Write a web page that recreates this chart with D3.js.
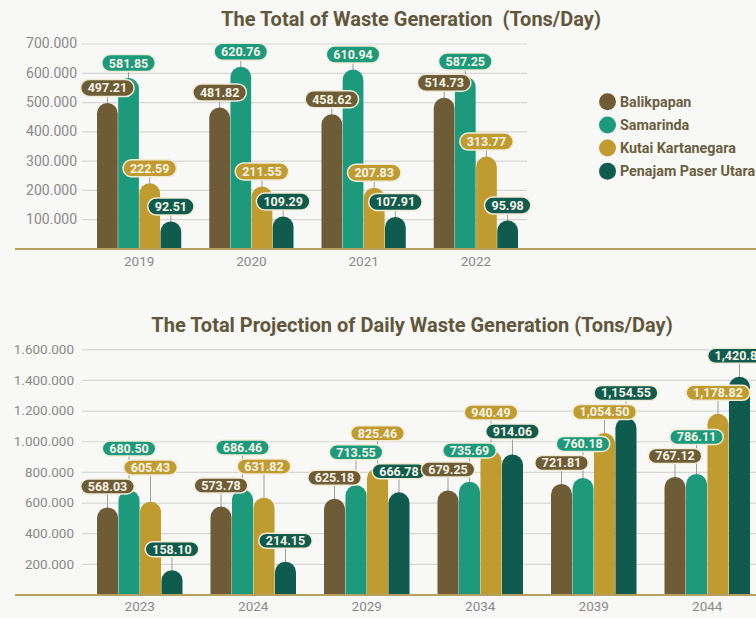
<!DOCTYPE html>
<html>
<head>
<meta charset="utf-8">
<script src="https://cdn.jsdelivr.net/npm/d3@7"></script>
<style>
  html, body { margin: 0; padding: 0; background: #f8f8f7; }
  svg { display: block; font-family: Roboto, "Noto Sans", sans-serif; }
</style>
</head>
<body>
<svg id="chart" width="756" height="618"></svg>
<script>
// ---------- DATA ----------
const seriesNames = ["Balikpapan", "Samarinda", "Kutai Kartanegara", "Penajam Paser Utara"];
const seriesColors = ["#6e5c36", "#1c9a7b", "#bf9b30", "#0f5b4d"];

const years1 = ["2019", "2020", "2021", "2022"];
const balikpapan1 = [497.21, 481.82, 458.62, 514.73];
const samarinda1 = [581.85, 620.76, 610.94, 587.25];
const kutai1 = [222.59, 211.55, 207.83, 313.77];
const penajam1 = [92.51, 109.29, 107.91, 95.98];
const ticks1 = [100, 200, 300, 400, 500, 600, 700];

const years2 = ["2023", "2024", "2029", "2034", "2039", "2044"];
const balikpapan2 = [568.03, 573.78, 625.18, 679.25, 721.81, 767.12];
const samarinda2 = [680.50, 686.46, 713.55, 735.69, 760.18, 786.11];
const kutai2 = [605.43, 631.82, 825.46, 940.49, 1054.50, 1178.82];
const penajam2 = [158.10, 214.15, 666.78, 914.06, 1154.55, 1420.85];
const ticks2 = [200, 400, 600, 800, 1000, 1200, 1400, 1600];

const title1 = "The Total of Waste Generation  (Tons/Day)";
const title2 = "The Total Projection of Daily Waste Generation (Tons/Day)";

// ---------- SETUP ----------
const svg = d3.select("#chart");
const W = 756, H = 618;
svg.append("rect").attr("width", W).attr("height", H).attr("fill", "#f8f8f7");

const idLocale = d3.formatLocale({decimal: ",", thousands: ".", grouping: [3], currency: ["", ""]});
const tickFmt = d => idLocale.format(",.0f")(d * 1000);
const valFmt = d3.format(",.2f");

const textColor = "#62573a";
const gridColor = "#d6d6d4";
const axisTextColor = "#8a8a88";

function drawChart(cfg) {
  const g = svg.append("g");
  const x0 = d3.scaleBand().domain(cfg.years).range(cfg.xRange).paddingInner(0).paddingOuter(0);
  const bw = x0.bandwidth();
  const x1 = d3.scaleBand().domain(seriesNames).range([cfg.groupPad, bw - cfg.groupPad]).paddingInner(0.02);
  const y = d3.scaleLinear().domain([0, cfg.yMax]).range(cfg.yRange);

  // title
  g.append("text")
    .attr("x", cfg.titleX).attr("y", cfg.titleY)
    .attr("text-anchor", "middle")
    .attr("font-size", cfg.titleSize).attr("font-weight", 700)
    .attr("fill", textColor)
    .attr("xml:space", "preserve")
    .style("white-space", "pre")
    .text(cfg.title);

  // grid
  const axisG = g.append("g").attr("transform", `translate(${cfg.gridX0},0)`);
  const yAxis = d3.axisLeft(y).tickValues(cfg.ticks).tickFormat(tickFmt)
      .tickSize(-(cfg.gridX1 - cfg.gridX0)).tickPadding(cfg.tickPad);
  axisG.call(yAxis);
  axisG.select(".domain").remove();
  axisG.selectAll(".tick line").attr("stroke", gridColor).attr("stroke-width", 1.2);
  axisG.selectAll(".tick text")
    .attr("fill", axisTextColor).attr("font-size", cfg.tickSize).attr("font-family", "Roboto, sans-serif");

  // year labels
  const xAxisG = g.append("g").attr("transform", `translate(0,${cfg.yRange[0]})`);
  xAxisG.call(d3.axisBottom(x0).tickSize(0).tickPadding(cfg.yearPad));
  xAxisG.select(".domain").remove();
  xAxisG.selectAll(".tick text")
    .attr("fill", axisTextColor).attr("font-size", 13.5).attr("font-family", "Roboto, sans-serif");

  // data records
  const records = cfg.years.map((yr, i) => ({
    year: yr,
    items: seriesNames.map((s, k) => ({series: s, color: seriesColors[k], value: cfg.values[k][i]}))
  }));

  const layer = g.append("g");
  const lineLayer = layer.append("g");
  const barLayer = layer.append("g");
  const baseLayer = layer.append("g");
  const pillLayer = layer.append("g");

  // bars with rounded tops
  const bw1 = x1.bandwidth();
  const r = bw1 / 2;
  records.forEach(rec => {
    rec.items.forEach(it => {
      const bx = x0(rec.year) + x1(it.series);
      const top = y(it.value);
      const bottom = y(0);
      it.cx = bx + bw1 / 2;
      it.top = top;
      const p = `M${bx},${bottom} V${top + r} A${r},${r} 0 0 1 ${bx + bw1},${top + r} V${bottom} Z`;
      barLayer.append("path").attr("d", p).attr("fill", it.color);
    });
  });

  // baseline
  baseLayer.append("line")
    .attr("x1", 15).attr("x2", W)
    .attr("y1", y(0) + 0.5).attr("y2", y(0) + 0.5)
    .attr("stroke", "#b4a063").attr("stroke-width", 2.2);

  // pills: measure, layout (ascending values, push up on collision)
  const h = cfg.pillH, gap = cfg.pillGap;
  records.forEach(rec => {
    rec.items.forEach(it => {
      const t = pillLayer.append("text")
        .attr("font-size", cfg.labelSize).attr("font-weight", 700)
        .attr("text-anchor", "middle")
        .attr("fill", "#f6f3e6")
        .attr("dy", "0.36em")
        .text(valFmt(it.value));
      it.textNode = t;
      it.w = t.node().getComputedTextLength() + 2 * cfg.pillPadX;
    });
    const sorted = rec.items.slice().sort((a, b) => a.value - b.value);
    const placed = [];
    sorted.forEach(it => {
      let py = it.top - cfg.labelOffset;
      let moved = true;
      while (moved) {
        moved = false;
        for (const p of placed) {
          const xOverlap = (p.w + it.w) / 2 - Math.abs(p.cx - it.cx);
          if (xOverlap > 6 && Math.abs(p.py - py) < h + gap) {
            py = p.py - h - gap;
            moved = true;
          }
        }
      }
      it.py = py;
      placed.push(it);
    });
    rec.items.forEach(it => {
      lineLayer.append("line")
        .attr("x1", it.cx).attr("x2", it.cx)
        .attr("y1", it.py).attr("y2", it.top + 1)
        .attr("stroke", "#9c9c98").attr("stroke-width", 1);
      pillLayer.insert("rect", function() { return it.textNode.node(); })
        .attr("x", it.cx - it.w / 2).attr("y", it.py - h / 2)
        .attr("width", it.w).attr("height", h)
        .attr("rx", h / 2).attr("ry", h / 2)
        .attr("fill", it.color)
        .attr("stroke", "#f1ecd6").attr("stroke-width", 1.5);
      it.textNode.attr("x", it.cx).attr("y", it.py);
    });
  });
}

drawChart({
  years: years1,
  values: [balikpapan1, samarinda1, kutai1, penajam1],
  ticks: ticks1,
  yMax: 700,
  yRange: [248.5, 43.5],
  xRange: [83, 532],
  groupPad: 14,
  gridX0: 82, gridX1: 527,
  tickPad: 5, tickSize: 14,
  yearPad: 8,
  title: title1, titleX: 411, titleY: 26, titleSize: 20,
  labelSize: 12.5, pillH: 17, pillGap: 2, pillPadX: 7, labelOffset: 15
});

drawChart({
  years: years2,
  values: [balikpapan2, samarinda2, kutai2, penajam2],
  ticks: ticks2,
  yMax: 1600,
  yRange: [594.5, 349.3],
  xRange: [83, 764],
  groupPad: 14,
  gridX0: 82, gridX1: W,
  tickPad: 8, tickSize: 13.5,
  yearPad: 7,
  title: title2, titleX: 412, titleY: 332, titleSize: 20,
  labelSize: 12.5, pillH: 15, pillGap: 4, pillPadX: 7, labelOffset: 21
});

// legend
const legend = svg.append("g");
seriesNames.forEach((s, k) => {
  const ly = 101.7 + k * 23.2;
  legend.append("circle").attr("cx", 607.5).attr("cy", ly).attr("r", 8.5).attr("fill", seriesColors[k]);
  legend.append("text").attr("x", 620).attr("y", ly).attr("dy", "0.36em")
    .attr("font-size", 14.3).attr("font-weight", 700).attr("fill", "#6a5f40").text(s);
});
</script>
</body>
</html>
